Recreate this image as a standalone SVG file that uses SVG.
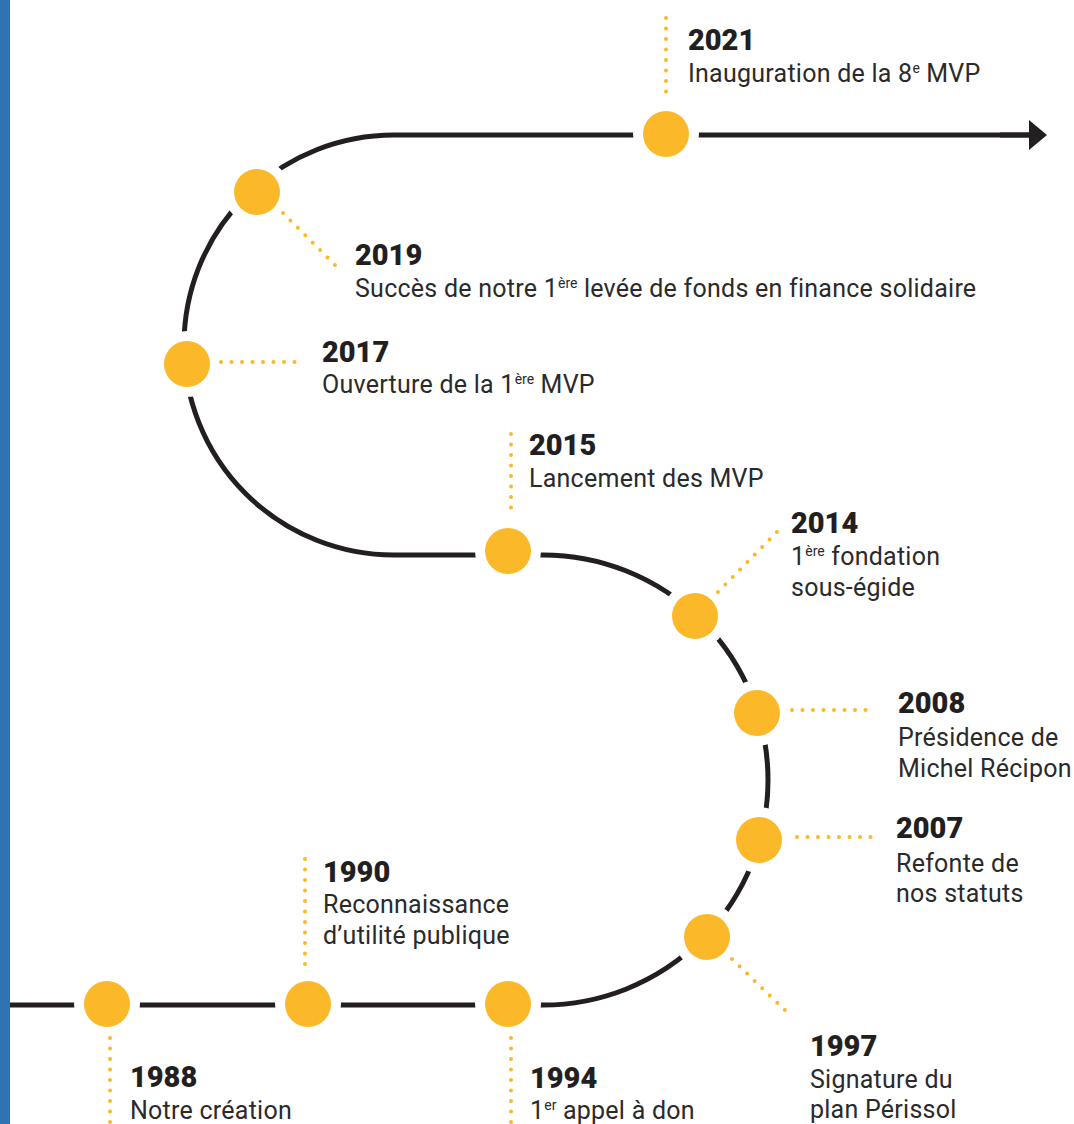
<svg xmlns="http://www.w3.org/2000/svg" width="1074" height="1124" viewBox="0 0 1074 1124">
<style>
.yr{font-family:Roboto,"Liberation Sans",sans-serif;font-weight:900;font-size:29px;fill:#231f20}
.bd{font-family:Roboto,"Liberation Sans",sans-serif;font-weight:400;font-size:25px;letter-spacing:0.25px;fill:#2b2a2b}
.sup{font-size:14px;letter-spacing:0}
.dot{fill:#fbb829}
.lead{fill:none;stroke:#fbb829;stroke-width:4;stroke-linecap:round;stroke-dasharray:0 10.5}
.line{fill:none;stroke:#231f20;stroke-width:5}
</style>
<defs>
<marker id="arrow" viewBox="0 0 18 30" refX="1" refY="15" markerWidth="18" markerHeight="30" markerUnits="userSpaceOnUse" orient="auto">
<path d="M0 0 L18 15 L0 30 Z" fill="#231f20"/>
</marker>
<mask id="gaps" maskUnits="userSpaceOnUse" x="0" y="0" width="1074" height="1124">
<rect x="0" y="0" width="1074" height="1124" fill="#fff"/>
<g fill="#000">
<circle cx="666" cy="134" r="33"/>
<circle cx="257" cy="192" r="33"/>
<circle cx="187" cy="364" r="33"/>
<circle cx="508" cy="551" r="33"/>
<circle cx="695" cy="616" r="33"/>
<circle cx="757" cy="713" r="33"/>
<circle cx="759" cy="840" r="33"/>
<circle cx="707" cy="937" r="33"/>
<circle cx="107" cy="1004" r="33"/>
<circle cx="308" cy="1004" r="33"/>
<circle cx="508" cy="1004" r="33"/>
</g>
</mask>
</defs>
<rect x="0" y="0" width="10" height="1124" fill="#3173b0"/>
<g id="connectors">
<path class="line" mask="url(#gaps)" d="M10 1005 H543 A225 225 0 0 0 543 555 H394 A210 210 0 0 1 394 135 H1030"/>
<path class="line" d="M1000 135 H1030" marker-end="url(#arrow)"/>
</g>
<g id="n2021">
<path class="lead" d="M666 18 V100"/>
<circle class="dot" cx="666" cy="134" r="23"/>
<text class="yr" x="688" y="50">2021</text>
<text class="bd" x="688" y="82">Inauguration de la 8<tspan class="sup" dy="-9">e</tspan><tspan dy="9"> MVP</tspan></text>
</g>
<g id="n2019">
<path class="lead" d="M283 213 L342 272"/>
<circle class="dot" cx="257" cy="192" r="23"/>
<text class="yr" x="355" y="265">2019</text>
<text class="bd" x="355" y="297">Succès de notre 1<tspan class="sup" dy="-9">ère</tspan><tspan dy="9"> levée de fonds en finance solidaire</tspan></text>
</g>
<g id="n2017">
<path class="lead" d="M221 362 H303"/>
<circle class="dot" cx="187" cy="364" r="23"/>
<text class="yr" x="322" y="362">2017</text>
<text class="bd" x="322" y="393">Ouverture de la 1<tspan class="sup" dy="-9">ère</tspan><tspan dy="9"> MVP</tspan></text>
</g>
<g id="n2015">
<path class="lead" d="M511 434 V516"/>
<circle class="dot" cx="508" cy="551" r="23"/>
<text class="yr" x="529" y="455">2015</text>
<text class="bd" x="529" y="487">Lancement des MVP</text>
</g>
<g id="n2014">
<path class="lead" d="M718 592 L777 532"/>
<circle class="dot" cx="695" cy="616" r="23"/>
<text class="yr" x="791" y="533">2014</text>
<text class="bd" x="791" y="565">1<tspan class="sup" dy="-9">ère</tspan><tspan dy="9"> fondation</tspan></text>
<text class="bd" x="791" y="596">sous-égide</text>
</g>
<g id="n2008">
<path class="lead" d="M792 710 H873"/>
<circle class="dot" cx="757" cy="713" r="23"/>
<text class="yr" x="898" y="713">2008</text>
<text class="bd" x="898" y="746">Présidence de</text>
<text class="bd" x="898" y="777">Michel Récipon</text>
</g>
<g id="n2007">
<path class="lead" d="M797 837 H873"/>
<circle class="dot" cx="759" cy="840" r="23"/>
<text class="yr" x="896" y="838">2007</text>
<text class="bd" x="896" y="872">Refonte de</text>
<text class="bd" x="896" y="902">nos statuts</text>
</g>
<g id="n1997">
<path class="lead" d="M732 959 L792 1017"/>
<circle class="dot" cx="707" cy="937" r="23"/>
<text class="yr" x="810" y="1056">1997</text>
<text class="bd" x="810" y="1088">Signature du</text>
<text class="bd" x="810" y="1118">plan Périssol</text>
</g>
<g id="n1990">
<path class="lead" d="M305 859 V967"/>
<circle class="dot" cx="308" cy="1004" r="23"/>
<text class="yr" x="323" y="882">1990</text>
<text class="bd" x="323" y="913">Reconnaissance</text>
<text class="bd" x="323" y="944">d’utilité publique</text>
</g>
<g id="n1988">
<path class="lead" d="M110 1038 V1130"/>
<circle class="dot" cx="107" cy="1004" r="23"/>
<text class="yr" x="130" y="1087">1988</text>
<text class="bd" x="130" y="1119">Notre création</text>
</g>
<g id="n1994">
<path class="lead" d="M511 1038 V1130"/>
<circle class="dot" cx="508" cy="1004" r="23"/>
<text class="yr" x="530" y="1088">1994</text>
<text class="bd" x="530" y="1119">1<tspan class="sup" dy="-9">er</tspan><tspan dy="9"> appel à don</tspan></text>
</g>
</svg>
